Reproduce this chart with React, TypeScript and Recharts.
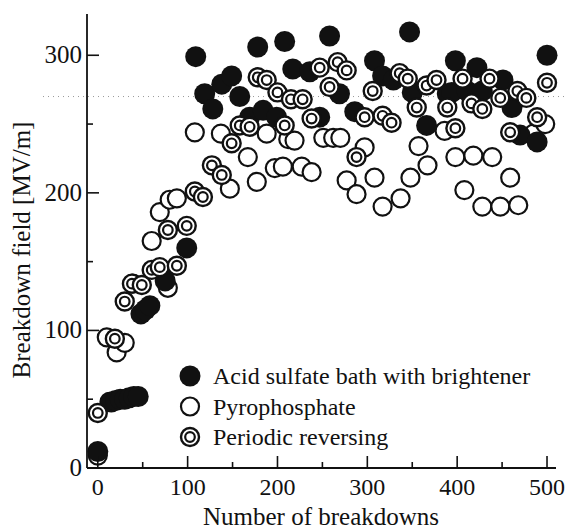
import React from 'react';
import { ScatterChart, Scatter, XAxis, YAxis, ReferenceLine } from 'recharts';

const acidX = [0, 15, 20, 25, 30, 35, 40, 45, 48, 53, 58, 75, 99, 109, 119, 128, 138, 149, 158, 169, 178, 184, 199, 208, 217, 236, 247, 258, 269, 286, 308, 317, 329, 347, 350, 366, 389, 394, 398, 411, 422, 428, 451, 461, 470, 489, 500];
const acidY = [12, 48, 49, 50, 50, 51, 52, 52, 112, 115, 118, 136, 160, 299, 272, 261, 279, 285, 270, 255, 306, 260, 255, 310, 290, 288, 255, 314, 272, 259, 296, 285, 282, 317, 273, 249, 272, 273, 296, 274, 291, 274, 282, 262, 242, 237, 300];

const pyroX = [0, 13, 10, 21, 30, 39, 60, 69, 78, 80, 88, 108, 137, 147, 167, 177, 188, 197, 206, 212, 219, 227, 238, 251, 262, 270, 277, 288, 297, 308, 317, 337, 348, 357, 367, 386, 398, 408, 418, 428, 439, 448, 459, 468, 485, 498];
const pyroY = [9, 48, 95, 84, 91, 134, 165, 186, 131, 195, 196, 244, 243, 203, 226, 208, 243, 218, 219, 239, 238, 219, 215, 240, 240, 240, 209, 199, 233, 211, 190, 196, 211, 234, 220, 245, 226, 202, 227, 190, 226, 190, 211, 191, 243, 250];

const periodicX = [0, 19, 30, 38, 49, 60, 69, 78, 88, 99, 108, 117, 127, 138, 149, 158, 169, 178, 188, 200, 208, 215, 228, 238, 247, 258, 267, 277, 288, 297, 306, 317, 327, 336, 345, 355, 366, 377, 389, 398, 406, 416, 428, 436, 448, 459, 467, 477, 489, 500];
const periodicY = [40, 94, 121, 134, 133, 144, 146, 173, 147, 176, 201, 197, 220, 213, 236, 249, 248, 284, 282, 273, 249, 268, 268, 254, 291, 277, 295, 289, 226, 255, 274, 256, 251, 287, 283, 262, 278, 282, 262, 247, 283, 265, 261, 283, 269, 244, 274, 269, 255, 280];

const xTicks = [0, 50, 100, 150, 200, 250, 300, 350, 400, 450, 500];
const yTicks = [0, 50, 100, 150, 200, 250, 300];
const levelLine = 270;

const seriesNames = ['Acid sulfate bath with brightener', 'Pyrophosphate', 'Periodic reversing'];

const toPoints = (xs: number[], ys: number[]) => xs.map((x, i) => ({ x, y: ys[i] }));

const FONT = "'Times New Roman', Times, 'Liberation Serif', 'Noto Serif', 'DejaVu Serif', serif";
const txt = { fontFamily: FONT, fill: '#111' };

const FilledDot = (p: any) => <circle cx={p.cx} cy={p.cy} r={10.5} fill="#111" />;
const OpenDot = (p: any) => <circle cx={p.cx} cy={p.cy} r={9} fill="#fff" stroke="#111" strokeWidth={2.2} />;
const RingDot = (p: any) => (
  <g>
    <circle cx={p.cx} cy={p.cy} r={9} fill="#fff" stroke="#111" strokeWidth={2.4} />
    <circle cx={p.cx} cy={p.cy} r={4.8} fill="#fff" stroke="#111" strokeWidth={2.2} />
  </g>
);

const BottomTick = (p: any) => {
  const major = p.payload.value % 100 === 0;
  return (
    <g>
      <line x1={p.x} y1={p.y} x2={p.x} y2={p.y - (major ? 12 : 6)} stroke="#111" strokeWidth={1.6} />
      {major && (
        <text x={p.x} y={p.y + 27} textAnchor="middle" fontSize={24} style={txt}>
          {p.payload.value}
        </text>
      )}
    </g>
  );
};

const TopTick = (p: any) => {
  const major = p.payload.value % 100 === 0;
  return <line x1={p.x} y1={p.y} x2={p.x} y2={p.y + (major ? 12 : 6)} stroke="#111" strokeWidth={1.6} />;
};

const LeftTick = (p: any) => {
  const major = p.payload.value % 100 === 0;
  return (
    <g>
      <line x1={p.x} y1={p.y} x2={p.x + (major ? 12 : 6)} y2={p.y} stroke="#111" strokeWidth={1.6} />
      {major && (
        <text x={p.x - 5} y={p.y + 8} textAnchor="end" fontSize={25} style={txt}>
          {p.payload.value}
        </text>
      )}
    </g>
  );
};

const RightTick = (p: any) => {
  const major = p.payload.value % 100 === 0;
  return <line x1={p.x} y1={p.y} x2={p.x - (major ? 12 : 6)} y2={p.y} stroke="#111" strokeWidth={1.6} />;
};

const DottedLevel = (p: any) => (
  <line x1={p.x1 - 44} y1={p.y1} x2={p.x2 + 12} y2={p.y2} stroke="#999" strokeWidth={1} strokeDasharray="1 4" />
);

const LegendBox = () => (
  <svg width={380} height={100} style={{ position: 'absolute', left: 170, top: 356 }}>
    {seriesNames.map((name, i) => {
      const cy = 20 + i * 30.5;
      const cx = 20;
      return (
        <g key={name}>
          {i === 0 && <FilledDot cx={cx} cy={cy} />}
          {i === 1 && <OpenDot cx={cx} cy={cy} />}
          {i === 2 && <RingDot cx={cx} cy={cy} />}
          <text x={43} y={cy + 8} fontSize={24} style={txt}>
            {name}
          </text>
        </g>
      );
    })}
  </svg>
);

export default function App() {
  return (
    <div style={{ position: 'absolute', left: 0, top: 0, width: 568, height: 529, background: '#fff' }}>
      <ScatterChart width={568} height={529} margin={{ top: 14, right: 12, bottom: 0, left: 0 }}>
        <XAxis
          xAxisId="b"
          type="number"
          dataKey="x"
          domain={[-12, 510]}
          ticks={xTicks}
          interval={0}
          height={61}
          tickSize={0}
          tickMargin={0}
          tickLine={false}
          axisLine={{ stroke: '#111', strokeWidth: 1.8 }}
          tick={<BottomTick />}
          label={{
            content: () => (
              <text x={321} y={525} textAnchor="middle" fontSize={25} style={txt}>
                Number of breakdowns
              </text>
            ),
          }}
        />
        <XAxis
          xAxisId="t"
          orientation="top"
          type="number"
          dataKey="x"
          domain={[-12, 510]}
          ticks={xTicks}
          interval={0}
          height={0}
          tickSize={0}
          tickMargin={0}
          tickLine={false}
          axisLine={{ stroke: '#111', strokeWidth: 1.8 }}
          tick={<TopTick />}
        />
        <YAxis
          yAxisId="l"
          type="number"
          dataKey="y"
          domain={[0, 330]}
          ticks={yTicks}
          interval={0}
          width={87}
          tickSize={0}
          tickMargin={0}
          tickLine={false}
          axisLine={{ stroke: '#111', strokeWidth: 1.8 }}
          tick={<LeftTick />}
          label={{
            content: () => (
              <text x={30} y={250} transform="rotate(-90 30 250)" textAnchor="middle" fontSize={25} style={txt}>
                Breakdown field [MV/m]
              </text>
            ),
          }}
        />
        <YAxis
          yAxisId="r"
          orientation="right"
          type="number"
          dataKey="y"
          domain={[0, 330]}
          ticks={yTicks}
          interval={0}
          width={0}
          tickSize={0}
          tickMargin={0}
          tickLine={false}
          axisLine={{ stroke: '#111', strokeWidth: 1.8 }}
          tick={<RightTick />}
        />
        <ReferenceLine xAxisId="b" yAxisId="l" y={levelLine} shape={<DottedLevel />} />
        <Scatter xAxisId="b" yAxisId="l" name={seriesNames[1]} data={toPoints(pyroX, pyroY)} shape={<OpenDot />} isAnimationActive={false} />
        <Scatter xAxisId="b" yAxisId="l" name={seriesNames[0]} data={toPoints(acidX, acidY)} shape={<FilledDot />} isAnimationActive={false} />
        <Scatter xAxisId="b" yAxisId="l" name={seriesNames[2]} data={toPoints(periodicX, periodicY)} shape={<RingDot />} isAnimationActive={false} />
      </ScatterChart>
      <LegendBox />
    </div>
  );
}
